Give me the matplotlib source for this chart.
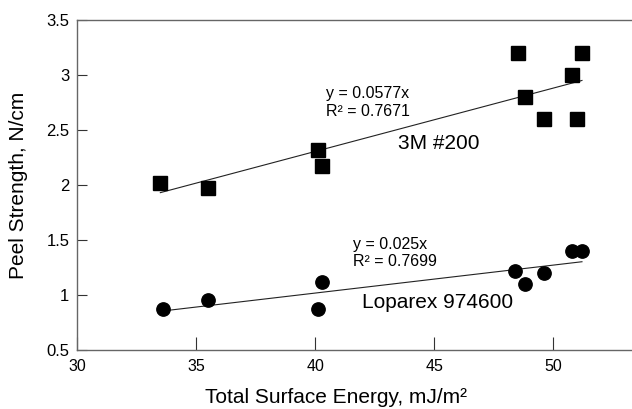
import matplotlib
matplotlib.use("Agg")
import matplotlib.pyplot as plt
import numpy as np

plt.rcParams["font.family"] = ["Liberation Sans", "DejaVu Sans"]

# ── Data ──
energy_3m = [33.5, 35.5, 40.1, 40.3, 48.5, 48.8, 49.6, 50.8, 51.0, 51.2]
peel_3m = [2.02, 1.97, 2.32, 2.17, 3.20, 2.80, 2.60, 3.00, 2.60, 3.20]

energy_lop = [33.6, 35.5, 40.1, 40.3, 48.4, 48.8, 49.6, 50.8, 51.2]
peel_lop = [0.87, 0.95, 0.87, 1.12, 1.22, 1.10, 1.20, 1.40, 1.40]

eq_3m = ["y = 0.0577x", "R\u00b2 = 0.7671"]
eq_lop = ["y = 0.025x", "R\u00b2 = 0.7699"]
series_names = ["3M #200", "Loparex 974600"]

x_ticks = [30, 35, 40, 45, 50]
y_ticks = [0.5, 1, 1.5, 2, 2.5, 3, 3.5]
y_tick_labels = ["0.5", "1", "1.5", "2", "2.5", "3", "3.5"]


def fit_through_origin(xs, ys):
    xs = np.asarray(xs)
    ys = np.asarray(ys)
    return (xs * ys).sum() / (xs * xs).sum()


fig = plt.figure(figsize=(6.32, 4.09), dpi=100)
fig.patch.set_facecolor("white")
ax = fig.add_axes([0.1218, 0.1443, 0.8782, 0.8068])

# ── Points ──
ax.plot(energy_3m, peel_3m, "s", color="black", markersize=9.4, zorder=3)
ax.plot(energy_lop, peel_lop, "o", color="black", markersize=9.6, zorder=3)

# ── Trendlines (linear, forced through zero) ──
for xs, ys in ((energy_3m, peel_3m), (energy_lop, peel_lop)):
    k = fit_through_origin(xs, ys)
    xx = np.array([min(xs), max(xs)])
    ax.plot(xx, k * xx, color="#222", linewidth=0.8, zorder=2)

# ── Annotations ──
ax.text(40.46, 2.83, eq_3m[0], fontsize=11.5, va="center", ha="left")
ax.text(40.46, 2.67, eq_3m[1], fontsize=11.5, va="center", ha="left")
ax.text(43.49, 2.38, series_names[0], fontsize=15, va="center", ha="left")

ax.text(41.6, 1.455, eq_lop[0], fontsize=11.5, va="center", ha="left")
ax.text(41.6, 1.30, eq_lop[1], fontsize=11.5, va="center", ha="left")
ax.text(41.97, 0.936, series_names[1], fontsize=15, va="center", ha="left")

# ── Axes ──
ax.set_xlim(30, 53.3)
ax.set_ylim(0.5, 3.5)
ax.set_xticks(x_ticks)
ax.set_yticks(y_ticks)
ax.set_yticklabels(y_tick_labels)

ax.spines["right"].set_visible(False)
for side in ("left", "bottom", "top"):
    ax.spines[side].set_color("#666")
    ax.spines[side].set_linewidth(1.0)

ax.tick_params(axis="x", direction="in", length=9.5, width=0.8, color="#333",
               labelsize=11.5, pad=6.5)
ax.tick_params(axis="y", direction="in", length=7.5, width=0.8, color="#333",
               labelsize=12, pad=5.5)

ax.set_xlabel("Total Surface Energy, mJ/m\u00b2", fontsize=15)
ax.set_ylabel("Peel Strength, N/cm", fontsize=15, va="center", ha="center")
ax.xaxis.set_label_coords(0.467, -0.115)
ax.yaxis.set_label_coords(-0.106, 0.5)

fig.savefig("out.png", dpi=100, facecolor="white")
